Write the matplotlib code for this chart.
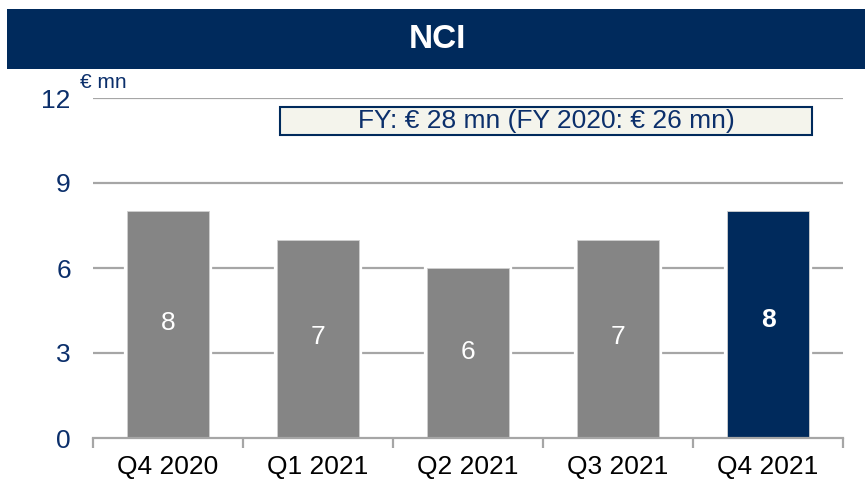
import numpy as np
from matplotlib import pyplot as plt
from matplotlib.patches import Rectangle

# chart data
quarters = ["Q4 2020", "Q1 2021", "Q2 2021", "Q3 2021", "Q4 2021"]
nci_values = [8, 7, 6, 7, 8]
highlight = [False, False, False, False, True]
y_ticks = [0, 3, 6, 9, 12]
title = "NCI"
unit_label = "€ mn"
fy_note = "FY: € 28 mn (FY 2020: € 26 mn)"

navy = "#002A5C"
bar_grey = "#858585"
grid_grey = "#A6A6A6"

plt.rcParams["font.family"] = ["Liberation Sans", "DejaVu Sans"]

fig = plt.figure(figsize=(8.65, 4.8), dpi=100)

# title band
fig.patches.append(Rectangle((7 / 865, 1 - 69 / 480), 1 - 7 / 865, 60 / 480,
                             transform=fig.transFigure, facecolor=navy,
                             edgecolor="none", zorder=0))
fig.text(0.5 + 5 / 865, 1 - 39 / 480, title, color="white", fontsize=24,
         fontweight="bold", ha="center", va="center")

ax_w = 750
ax = fig.add_axes([93 / 865, 1 - 438 / 480, ax_w / 865, 340 / 480])
x = np.arange(len(quarters))
ax.set_xlim(-0.5, len(quarters) - 0.5)
ax.set_ylim(0, 12)

# gridlines
for t in y_ticks[1:]:
    ax.axhline(t, color=grid_grey, lw=1.6, zorder=1)

colors = [navy if h else bar_grey for h in highlight]
# white halo to break the gridlines around bars
ax.bar(x, nci_values, width=0.55, color=colors, edgecolor="white", lw=4.5, zorder=2)
ax.bar(x, nci_values, width=0.55, color=colors, edgecolor="#D0D0D0", lw=0.6, zorder=3)

for xi, v, h in zip(x, nci_values, highlight):
    ax.text(xi, v / 2 + (0.15 if h else 0.05), str(v), color="white", fontsize=19,
            fontweight="bold" if h else "normal", ha="center", va="center", zorder=4)

# axes styling
for s in ["top", "right", "left"]:
    ax.spines[s].set_visible(False)
ax.spines["bottom"].set_color(grid_grey)
ax.spines["bottom"].set_linewidth(1.6)
ax.spines["bottom"].set_zorder(5)

ax.set_yticks(y_ticks)
ax.set_yticklabels([str(t) for t in y_ticks], color="#0B2F6B", fontsize=19)
ax.tick_params(axis="y", length=0, pad=16)

ax.set_xticks(np.arange(len(quarters) + 1) - 0.5)
ax.set_xticklabels([])
ax.set_xticks(x, minor=True)
ax.set_xticklabels(quarters, minor=True, fontsize=19, color="black")
ax.tick_params(axis="x", which="major", length=7, width=1.6, color=grid_grey, direction="out")
ax.tick_params(axis="x", which="minor", length=0, pad=12)

# unit label
fig.text(80 / 865, 1 - 82 / 480, unit_label, color="#0B2F6B", fontsize=15,
         ha="left", va="center")

# FY note box
ax.add_patch(Rectangle(((280 - 93) / ax_w, (438 - 135) / 340), 532 / ax_w, 28 / 340,
                       transform=ax.transAxes, facecolor="#F4F4EC", edgecolor=navy,
                       lw=1.5, zorder=6, clip_on=False))
ax.text((546 - 93) / ax_w, (438 - 121) / 340, fy_note, transform=ax.transAxes,
        color="#0B2F6B", fontsize=19, ha="center", va="center", zorder=7)

fig.savefig("out.png", dpi=100)
